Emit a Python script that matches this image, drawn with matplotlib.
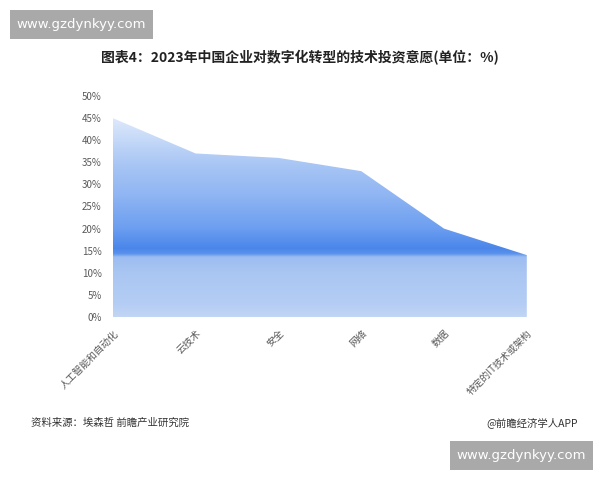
import matplotlib
matplotlib.use("Agg")
import matplotlib.pyplot as plt
import numpy as np
from matplotlib.colors import LinearSegmentedColormap
from matplotlib.patches import Rectangle

plt.rcParams['font.family'] = ['Noto Sans CJK SC', 'DejaVu Sans']

categories = ["人工智能和自动化", "云技术", "安全", "网络", "数据", "特定的IT技术或架构"]
values = [45, 37, 36, 33, 20, 14]
yticks = [0, 5, 10, 15, 20, 25, 30, 35, 40, 45, 50]
title = "图表4：2023年中国企业对数字化转型的技术投资意愿(单位：%)"
source = "资料来源：埃森哲 前瞻产业研究院"
brand = "@前瞻经济学人APP"
site = "www.gzdynkyy.com"

fig = plt.figure(figsize=(6, 4.8), dpi=100)
fig.patch.set_facecolor("white")
ax = fig.add_axes([0.188, 0.3396, 0.69, 0.4604])

x = np.arange(len(categories))
poly = ax.fill_between(x, 0, values, color="none", lw=0)

# vertical gradient (data units 0..50)
stops = [(0.0, "#c2d6f5"), (0.06, "#b4cdf4"), (0.20, "#a9c6f2"), (0.27, "#9dbdf1"),
         (0.285, "#5a92ec"), (0.31, "#4a86ea"), (0.40, "#6c9ef0"), (0.55, "#8fb5f3"),
         (0.70, "#aac7f5"), (0.80, "#c4d8f8"), (0.92, "#e2ecfb"), (1.0, "#eef4fd")]
cmap = LinearSegmentedColormap.from_list("g", stops)
grad = np.linspace(0, 1, 500).reshape(-1, 1)
im = ax.imshow(grad, extent=[0, len(categories) - 1, 0, 50], origin="lower",
               aspect="auto", cmap=cmap, zorder=1)
im.set_clip_path(poly.get_paths()[0], transform=ax.transData)

ax.set_xlim(0, len(categories) - 1)
ax.set_ylim(0, 50)
ax.set_yticks(yticks)
ax.set_yticklabels([f"{v}%" for v in yticks], fontsize=7, color="#595959")
ax.set_xticks(x)
ax.set_xticklabels(categories, fontsize=7, color="#595959", rotation=45,
                   ha="right", rotation_mode="anchor")
ax.tick_params(length=0, pad=8)
for s in ax.spines.values():
    s.set_visible(False)
ax.set_facecolor("none")

fig.text(0.5, 0.879, title, ha="center", va="center", fontsize=10,
         fontweight="bold", color="#222222")
fig.text(0.052, 0.12, source, ha="left", va="center", fontsize=7.5, color="#333333")
fig.text(0.963, 0.12, brand, ha="right", va="center", fontsize=7.5, color="#333333")

# site watermark boxes
for (bx, by) in [(10, 441), (450, 10)]:
    fig.patches.append(Rectangle((bx / 600, by / 480), 143 / 600, 29 / 480,
                                 transform=fig.transFigure, facecolor="#a9a9a9",
                                 edgecolor="none", zorder=5))
    fig.text((bx + 71.5) / 600, (by + 14.5) / 480, site, ha="center", va="center",
             fontsize=9.5, color="white", family="DejaVu Sans", zorder=6)

fig.savefig("out.png", dpi=100, facecolor="white")
